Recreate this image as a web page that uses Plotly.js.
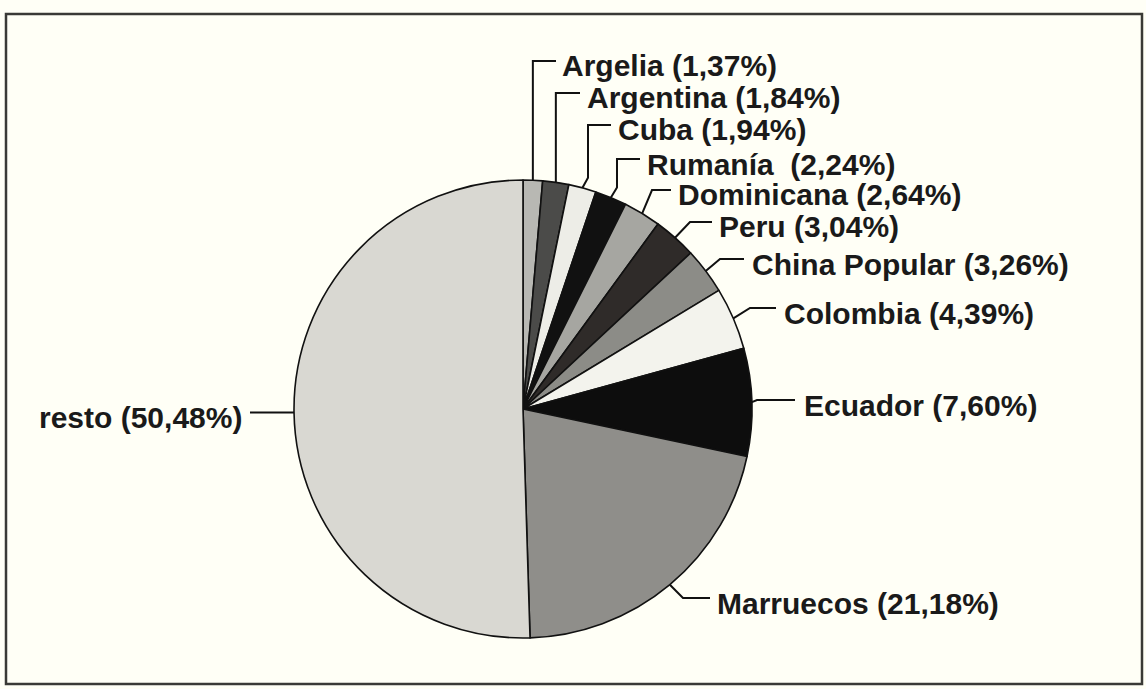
<!DOCTYPE html>
<html><head><meta charset="utf-8">
<script src="https://cdn.plot.ly/plotly-3.0.1.min.js"></script>
<style>html,body{margin:0;padding:0;background:#fffff6;} #chart{width:1146px;height:689px;}</style>
</head><body><div id="chart"></div>
<script>
// ---- data ----
const countries = ["Argelia","Argentina","Cuba","Rumanía","Dominicana","Peru","China Popular","Colombia","Ecuador","Marruecos","resto"];
const shares = [1.37,1.84,1.94,2.24,2.64,3.04,3.26,4.39,7.60,21.18,50.48];
const shareText = ["1,37%","1,84%","1,94%","2,24%","2,64%","3,04%","3,26%","4,39%","7,60%","21,18%","50,48%"];

// ---- styles ----
const sliceColors = ["#b8b8b3","#4b4b49","#ededе7".replace("е","e"),"#111111","#a6a6a1","#2f2b29","#8c8c87","#f3f3ed","#0d0d0d","#8f8e8a","#d9d8d2"];

// ---- layout geometry ----
const W = 1146, H = 689;
const CX = 523, CY = 409, R = 229;
// label placement: style, elbowX (null = anchor x), lineY (null = anchor y), line end x, text x
const labelPlace = [
  {s:"v", ex:null, ly:61,  end:556, tx:560},
  {s:"v", ex:null, ly:93,  end:580, tx:585},
  {s:"v", ex:588,  ly:125, end:611, tx:616},
  {s:"v", ex:617,  ly:159, end:640, tx:645},
  {s:"d", ex:652,  ly:190, end:671, tx:676},
  {s:"d", ex:690,  ly:222, end:712, tx:717},
  {s:"d", ex:720,  ly:259, end:744, tx:750},
  {s:"d", ex:750,  ly:308, end:776, tx:782},
  {s:"d", ex:757,  ly:400, end:795, tx:802},
  {s:"d", ex:683,  ly:598, end:710, tx:715},
  {s:"l", ex:null, ly:null, end:250, tx:244}
];

const px = x => x / W, py = y => 1 - y / H;
const total = shares.reduce((a,b)=>a+b,0);

// anchor on pie edge at the middle of each slice (clockwise from 12 o'clock)
let cum = 0;
const anchors = shares.map(v => {
  const mid = (cum + v/2) / total * 2 * Math.PI;
  cum += v;
  return [CX + R*Math.sin(mid), CY - R*Math.cos(mid)];
});

const shapes = [{
  type:"rect", xref:"paper", yref:"paper",
  x0:px(6), x1:px(1142), y0:py(684), y1:py(14),
  line:{color:"#3a3a36", width:2.5}, fillcolor:"rgba(0,0,0,0)", layer:"below"
}];
const annotations = [];

countries.forEach((c,i) => {
  const [ax, ay] = anchors[i];
  const p = labelPlace[i];
  let pts;
  if (p.s === "v") {
    const ex = p.ex === null ? ax : p.ex;
    pts = [[ax,ay],[ex, ay-10],[ex,p.ly],[p.end,p.ly]];
  } else if (p.s === "d") {
    pts = [[ax,ay],[p.ex,p.ly],[p.end,p.ly]];
  } else {
    pts = [[ax,ay],[p.end,ay]];
  }
  const path = pts.map((q,k)=>(k?"L":"M")+px(q[0]).toFixed(5)+","+py(q[1]).toFixed(5)).join(" ");
  shapes.push({type:"path", xref:"paper", yref:"paper", path:path, line:{color:"#111", width:2}});
  const ly = p.ly === null ? ay : p.ly;
  const label = c === "Rumanía" ? c + "\u00a0 (" + shareText[i] + ")" : c + " (" + shareText[i] + ")";
  annotations.push({
    xref:"paper", yref:"paper",
    x: px(p.tx), y: py(ly + 5),
    xanchor: p.s === "l" ? "right" : "left", yanchor:"middle",
    text: label, showarrow:false,
    font:{family:"Liberation Sans, Arial, sans-serif", size:30, weight:"bold", color:"#1a1a1a"}
  });
});

const trace = {
  type:"pie",
  labels: countries,
  values: shares,
  sort:false,
  direction:"clockwise",
  rotation:0,
  textinfo:"none",
  hoverinfo:"none",
  marker:{colors:sliceColors, line:{color:"#111", width:1.6}},
  domain:{x:[px(CX-R), px(CX+R)], y:[py(CY+R), py(CY-R)]}
};

const layout = {
  width:W, height:H, autosize:false,
  margin:{l:0,r:0,t:0,b:0,pad:0},
  paper_bgcolor:"#fffff6",
  showlegend:false,
  shapes:shapes,
  annotations:annotations
};

Plotly.newPlot("chart",[trace],layout,{staticPlot:true, displayModeBar:false});
</script>
</body></html>
